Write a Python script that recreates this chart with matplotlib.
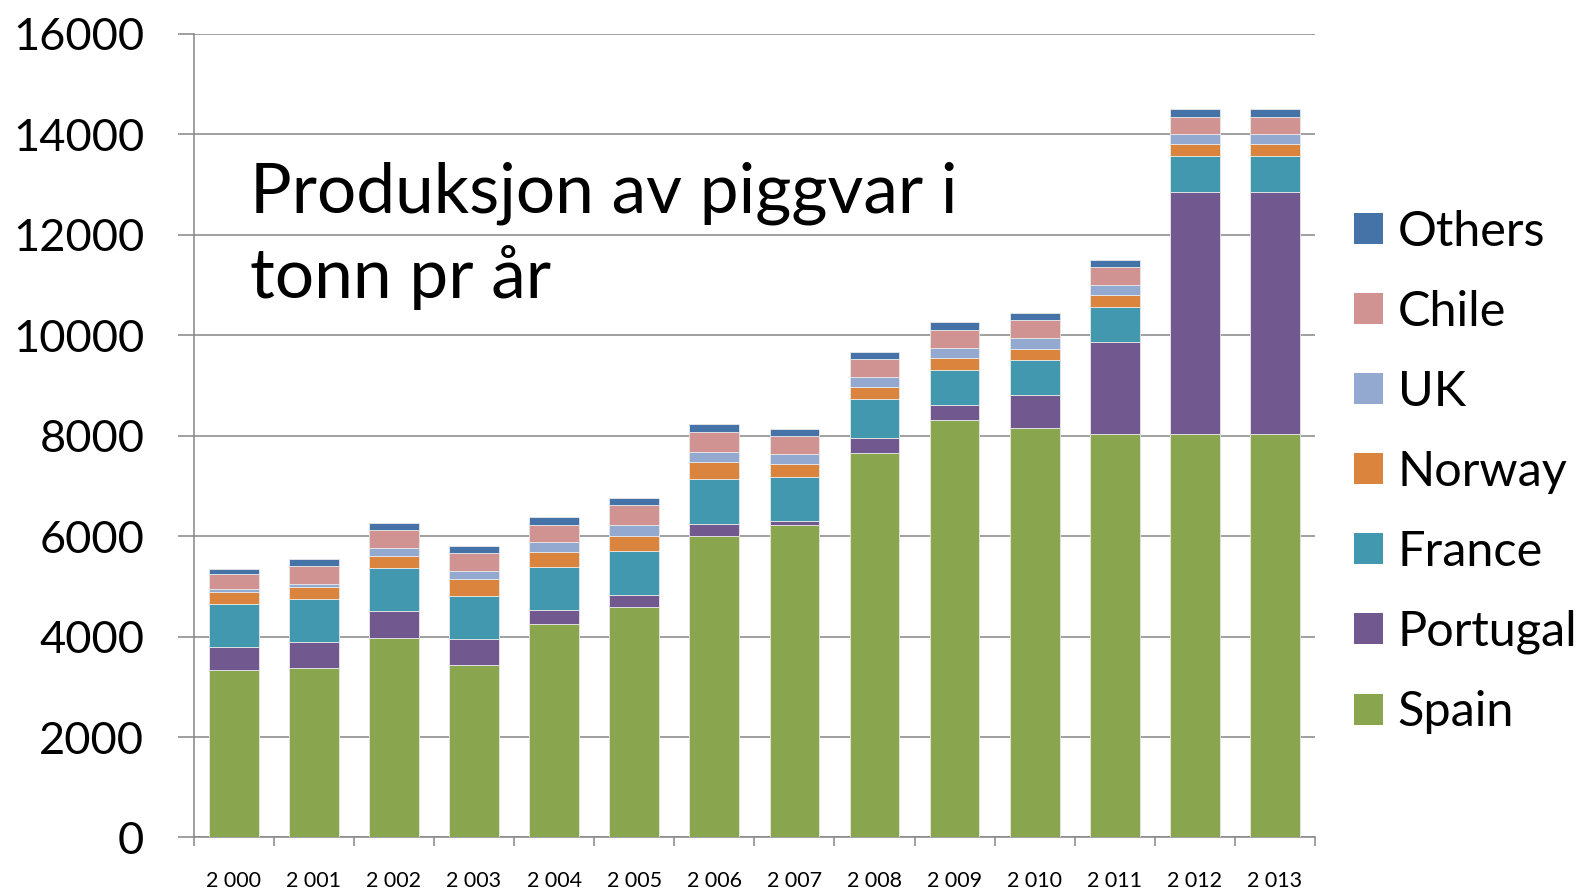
import matplotlib
matplotlib.use("Agg")
import matplotlib.pyplot as plt
import numpy as np
from matplotlib.patches import Patch
from matplotlib.ticker import FixedLocator

years = ['2 000', '2 001', '2 002', '2 003', '2 004', '2 005', '2 006',
         '2 007', '2 008', '2 009', '2 010', '2 011', '2 012', '2 013']
spain = [3340, 3370, 3980, 3440, 4250, 4590, 6000, 6225, 7650, 8300, 8140, 8030, 8040, 8040]
portugal = [450, 530, 530, 510, 270, 245, 245, 80, 300, 310, 660, 1830, 4815, 4815]
france = [850, 845, 850, 860, 855, 870, 880, 870, 780, 700, 700, 690, 700, 700]
norway = [245, 250, 250, 340, 300, 305, 340, 260, 240, 235, 230, 240, 240, 240]
uk = [55, 50, 150, 145, 200, 200, 205, 200, 195, 200, 210, 210, 200, 200]
chile = [300, 360, 360, 360, 350, 405, 405, 350, 355, 360, 350, 345, 340, 340]
others = [100, 145, 145, 145, 145, 140, 155, 140, 150, 155, 150, 145, 160, 160]

series_names = ['Spain', 'Portugal', 'France', 'Norway', 'UK', 'Chile', 'Others']
series_vals = [spain, portugal, france, norway, uk, chile, others]
colors = ['#89A54E', '#71588F', '#4198AF', '#DB843D', '#93A9CF', '#D19392', '#4572A7']

title_text = 'Produksjon av piggvar i\ntonn pr år'

FONT = 'Lato'
plt.rcParams['font.family'] = [FONT, 'DejaVu Sans']

fig = plt.figure(figsize=(15.81, 8.92), dpi=100)
ax = fig.add_axes([0.1225, 0.0611, 0.8318 - 0.1225, 0.9624 - 0.0611])

x = np.arange(len(years))
bottom = np.zeros(len(years))
for name, vals, c in zip(series_names, series_vals, colors):
    v = np.array(vals, dtype=float)
    ax.bar(x, v, bottom=bottom, width=0.62, color=c, edgecolor='#e8e8e8',
           linewidth=0.6, zorder=3)
    bottom += v

ax.set_xlim(-0.5, len(years) - 0.5)
ax.set_ylim(0, 16000)
ax.set_yticks(np.arange(0, 16001, 2000))
ax.yaxis.grid(True, color='#868686', linewidth=1.1, zorder=0)
ax.set_axisbelow(True)

for s in ['top', 'right']:
    ax.spines[s].set_visible(False)
for s in ['left', 'bottom']:
    ax.spines[s].set_color('#868686')
    ax.spines[s].set_linewidth(1.1)

ax.tick_params(axis='y', direction='out', length=11.5, width=1.1, color='#868686',
               labelsize=32.5, pad=24)
ax.set_xticks(x)
ax.set_xticklabels(years)
ax.tick_params(axis='x', which='major', length=0, labelsize=15.5, pad=24)
ax.xaxis.set_minor_locator(FixedLocator(np.arange(-0.5, len(years), 1.0)))
ax.tick_params(axis='x', which='minor', direction='out', length=6.5, width=1.1,
               color='#868686')

fig.text(250 / 1581, 1 - 298 / 892, title_text, fontsize=50, ha='left',
         va='baseline', linespacing=1.38, transform=fig.transFigure)

handles = [Patch(facecolor=c, edgecolor='none') for c in colors][::-1]
labels = series_names[::-1]
leg = fig.legend(handles, labels, loc='upper left',
                 bbox_to_anchor=(1354 / 1581, 1 - 210 / 892),
                 frameon=False, fontsize=35, handlelength=0.6, handleheight=0.6,
                 handletextpad=0.3, labelspacing=0.74, borderpad=0, borderaxespad=0)

fig.savefig('out.png', dpi=100)
